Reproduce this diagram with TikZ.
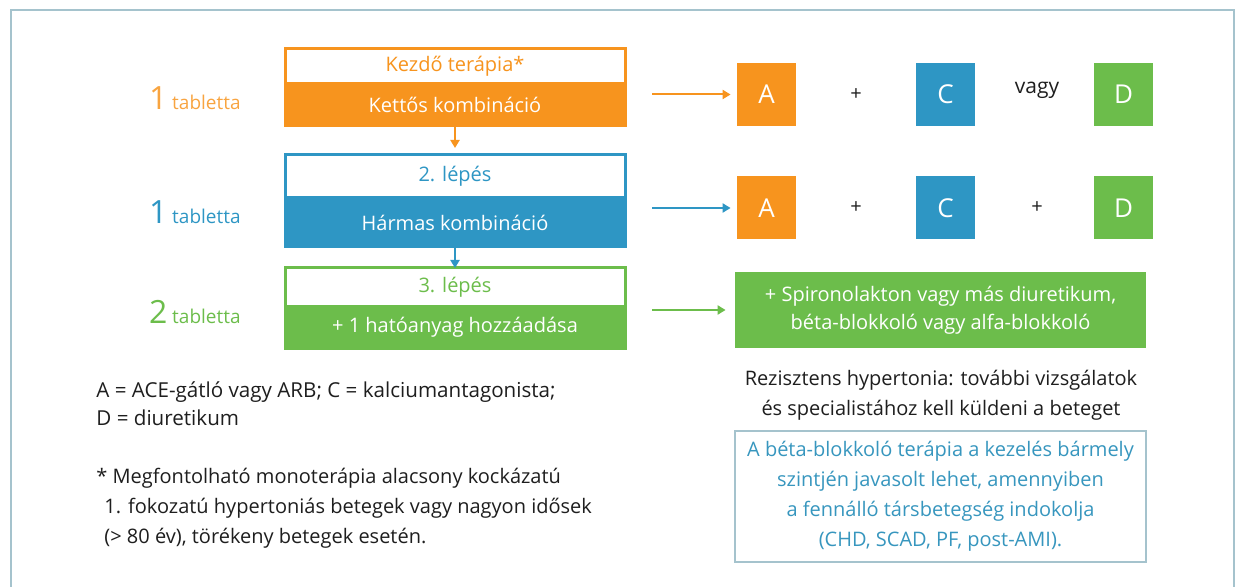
\documentclass[tikz,border=0pt]{standalone}
\usepackage{fontspec}
\setmainfont{Open Sans}
\usetikzlibrary{positioning,arrows.meta,calc}
\definecolor{StepOrange}{RGB}{247,148,30}
\definecolor{StepBlue}{RGB}{46,150,196}
\definecolor{StepGreen}{RGB}{108,189,75}
\definecolor{FrameGray}{RGB}{165,195,205}
\definecolor{NoteBlue}{RGB}{55,150,190}
\definecolor{DarkText}{RGB}{30,30,30}
\tikzset{
  headbox/.style={draw=#1,fill=white,line width=1.5pt,outer sep=0pt,
                  minimum width=170pt,text=#1,inner sep=0pt,
                  font=\fontsize{10}{12}\selectfont},
  bodybox/.style={draw=#1,fill=#1,line width=1.5pt,outer sep=0pt,
                  minimum width=170pt,text=white,inner sep=0pt,
                  font=\fontsize{10}{12}\selectfont},
  drug/.style={fill=#1,text=white,minimum width=29.5pt,minimum height=31.5pt,
               inner sep=0pt,font=\fontsize{13}{15}\selectfont},
  tab/.style={anchor=east,inner sep=0pt,text=#1,font=\fontsize{9.5}{11}\selectfont},
  arr/.style={-{Triangle[length=4pt,width=4.5pt]},#1,line width=1pt},
  plus/.style={text=DarkText,font=\fontsize{10}{12}\selectfont},
}
\newcommand{\bignum}[1]{{\fontsize{16}{18}\selectfont #1}}

\begin{document}
\begin{tikzpicture}[x=0.5pt,y=-0.5pt]
  \useasboundingbox (0,0) rectangle (1240,587);
  % outer frame
  \draw[FrameGray,line width=1pt] (11,600) -- (11,10) -- (1234,10) -- (1234,600);

  % left column: steps
  \node[headbox=StepOrange,minimum height=17.5pt] (k1) at (455,66.5) {Kezdő terápia*};
  \node[bodybox=StepOrange,minimum height=21pt,below=0pt of k1] (k1b) {Kettős kombináció};
  \node[headbox=StepBlue,minimum height=21.5pt] (k2) at (455,176.5) {2. lépés};
  \node[bodybox=StepBlue,minimum height=24.5pt,below=0pt of k2] (k2b) {Hármas kombináció};
  \node[headbox=StepGreen,minimum height=19.5pt] (k3) at (455,287.5) {3. lépés};
  \node[bodybox=StepGreen,minimum height=20.5pt,below=0pt of k3] (k3b) {+ 1 hatóanyag hozzáadása};

  \draw[arr=StepOrange,shorten >=3.5pt] (k1b.south) -- (k2.north);
  \draw[arr=StepBlue] (k2b.south) -- (k3.north);

  % tablet counts
  \node[tab=StepOrange!85] (t1) at (241,98) {\bignum{1} tabletta};
  \node[tab=StepBlue] (t2) at (241,212) {\bignum{1} tabletta};
  \node[tab=StepGreen] (t3) at (241,312) {\bignum{2} tabletta};

  % right column: combinations
  \node[drug=StepOrange] (a1) at (766.5,94.5) {A};
  \node[plus] (p1) at (856,95) {+};
  \node[drug=StepBlue] (c1) at (945.5,94.5) {C};
  \node[plus,font=\fontsize{10.5}{12}\selectfont] (v1) at (1037,90) {vagy};
  \node[drug=StepGreen] (d1) at (1123.5,94.5) {D};

  \node[drug=StepOrange] (a2) at (766.5,208) {A};
  \node[plus] (p2) at (856,208) {+};
  \node[drug=StepBlue] (c2) at (945.5,208) {C};
  \node[plus] (p3) at (1037,208) {+};
  \node[drug=StepGreen] (d2) at (1123.5,208) {D};

  \node[fill=StepGreen,text=white,minimum width=205.5pt,minimum height=38pt,
        align=center,font=\fontsize{10}{14}\selectfont] (extra) at (940.5,310)
        {+ Spironolakton vagy más diuretikum,\\béta-blokkoló vagy alfa-blokkoló};

  \draw[arr=StepOrange,shorten <=13.5pt,shorten >=3pt] (k1b.east |- a1.west) -- (a1.west);
  \draw[arr=StepBlue,shorten <=13.5pt,shorten >=3pt] (k2b.east |- a2.west) -- (a2.west);
  \draw[arr=StepGreen,shorten <=13.5pt,shorten >=4.5pt] (k3b.east |- extra.west) -- (extra.west);

  % notes
  \node[text=DarkText,align=center,font=\fontsize{10}{15}\selectfont] (rez) at (941,395)
        {Rezisztens hypertonia: további vizsgálatok\\és specialistához kell küldeni a beteget};
  \node[draw=FrameGray,line width=0.8pt,text=NoteBlue,minimum width=205.5pt,
        minimum height=65.5pt,inner sep=0pt,align=center,font=\fontsize{10}{15}\selectfont] (beta) at (940.5,496.5)
        {A béta-blokkoló terápia a kezelés bármely\\szintjén javasolt lehet, amennyiben\\a fennálló társbetegség indokolja\\(CHD, SCAD, PF, post-AMI).};

  % legend
  \node[anchor=west,inner sep=0pt,text=DarkText,align=left,font=\fontsize{10.3}{14}\selectfont] (leg) at (96,404)
        {A = ACE-gátló vagy ARB; C = kalciumantagonista;\\D = diuretikum};
  \node[anchor=west,inner sep=0pt,text=DarkText,align=left,font=\fontsize{10}{15}\selectfont] (star) at (96,508)
        {* Megfontolható monoterápia alacsony kockázatú\\\hspace{4pt}1. fokozatú hypertoniás betegek vagy nagyon idősek\\\hspace{4pt}(> 80 év), törékeny betegek esetén.};
\end{tikzpicture}
\end{document}
